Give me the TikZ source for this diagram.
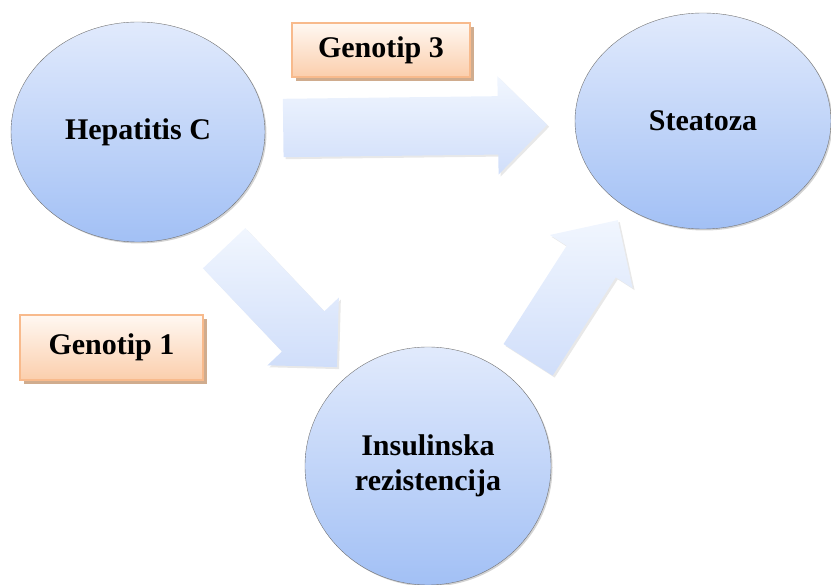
\documentclass[tikz,border=0pt]{standalone}
\usepackage{fontspec}
\setmainfont{Liberation Serif}
\usetikzlibrary{shapes,arrows,shadows}
\definecolor{bubtop}{RGB}{225,234,252}
\definecolor{bubbot}{RGB}{162,192,245}
\definecolor{arrtop}{RGB}{241,246,254}
\definecolor{arrbot}{RGB}{208,222,250}
\definecolor{tagtop}{RGB}{255,248,242}
\definecolor{tagbot}{RGB}{251,206,172}
\definecolor{tagline}{RGB}{248,186,140}
\definecolor{tagshade}{RGB}{200,158,122}

\begin{document}
\begin{tikzpicture}[x=1pt,y=-1pt,font=\bfseries\fontsize{30}{35}\selectfont]
\tikzstyle{bubble}=[ellipse,draw=black!55,thin,top color=bubtop,bottom color=bubbot,align=center,inner sep=0pt,
  drop shadow={shadow xshift=1.5pt,shadow yshift=-1.5pt,opacity=0.35}]
\tikzstyle{bigarrow}=[single arrow,anchor=tail,top color=arrtop,bottom color=arrbot,inner xsep=0pt,inner ysep=29pt,
  single arrow head extend=20pt,minimum width=98pt,
  drop shadow={shadow xshift=2pt,shadow yshift=-2pt,opacity=0.18}]
\tikzstyle{tag}=[rectangle,draw=tagline,line width=1.2pt,top color=tagtop,bottom color=tagbot,
  drop shadow={shadow xshift=4pt,shadow yshift=-4pt,opacity=0.85,fill=tagshade}]
\useasboundingbox (0,0) rectangle (831,585);

\node[bubble,minimum width=254pt,minimum height=220pt] (hep) at (138,132) {Hepatitis C};
\node[bubble,minimum width=256pt,minimum height=216pt] (ste) at (703,121) {Steatoza};
\node[bubble,minimum width=246pt,minimum height=238pt] (ins) at (428,466) {Insulinska\\rezistencija};

\node[bigarrow,minimum height=264pt,rotate=0.7] (hs) at (283,128) {};
\node[bigarrow,minimum height=164pt,rotate=-46.5] (hi) at (224,248) {};
\node[bigarrow,minimum height=166pt,rotate=57.3] (is) at (528,360) {};

\node[tag,minimum width=178pt,minimum height=54pt] (g3) at (381,50) {Genotip 3};
\node[tag,minimum width=183pt,minimum height=65pt] (g1) at (111.5,347.5) {Genotip 1};
\end{tikzpicture}
\end{document}
